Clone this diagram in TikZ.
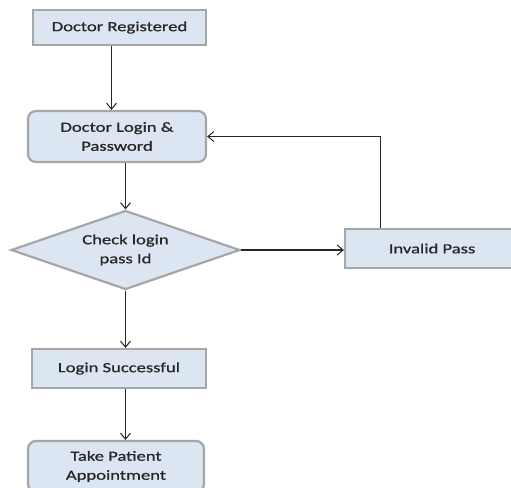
\documentclass[tikz,border=0pt]{standalone}
\usepackage{fontspec}
\setmainfont{Carlito}[FakeStretch=1.33, FakeBold=0.8]
\usetikzlibrary{shapes.geometric,arrows.meta}
\definecolor{boxfill}{HTML}{DCE6F2}
\definecolor{boxline}{HTML}{A6A6A6}
\definecolor{inktext}{HTML}{262626}
\begin{document}
\begin{tikzpicture}[x=1pt, y=-1pt,
	box/.style={rectangle, draw=boxline, fill=boxfill, line width=2.2pt, inner sep=0pt, align=center, text=inktext, font=\fontsize{14}{19}\selectfont},
	roundbox/.style={box, rounded corners=8pt},
	decision/.style={box, diamond, shape aspect=2.9},
	arr/.style={line width=1.1pt, draw=black!85, -{Straight Barb[length=6pt, width=10pt, line width=1pt]}}]
	\useasboundingbox (0, 0) rectangle (511, 487);
	% Define the nodes with specific positions
	\node[box, minimum width=173pt, minimum height=35pt] (reg) at (119.5, 27.5) {Doctor Registered};
	\node[roundbox, minimum width=178pt, minimum height=51pt] (login) at (117, 136.5) {Doctor Login \&\\Password};
	\node[decision, minimum width=229pt, minimum height=79pt] (check) at (125.5, 250) {Check login\\pass Id};
	\node[box, minimum width=174pt, minimum height=39pt] (invalid) at (432, 248.5) {Invalid Pass};
	\node[box, minimum width=174pt, minimum height=39pt] (succ) at (119, 368.5) {Login Successful};
	\node[roundbox, minimum width=176pt, minimum height=51pt] (appt) at (116, 466.5) {Take Patient\\Appointment};

	% Draw the connectors between nodes
	\draw[arr] ([xshift=-8pt]reg.south) -- ([xshift=-8pt]reg.south |- login.north);
	\draw[arr] (check.north |- login.south) -- (check.north);
	\draw[arr] (check.east) -- (check.east -| invalid.west);
	\draw[arr] ([xshift=37pt]invalid.north west) |- (login.east);
	\draw[arr] (check.south) -- (check.south |- succ.north);
	\draw[arr] (succ.south -| check.south) -- (check.south |- appt.north);
\end{tikzpicture}
\end{document}
